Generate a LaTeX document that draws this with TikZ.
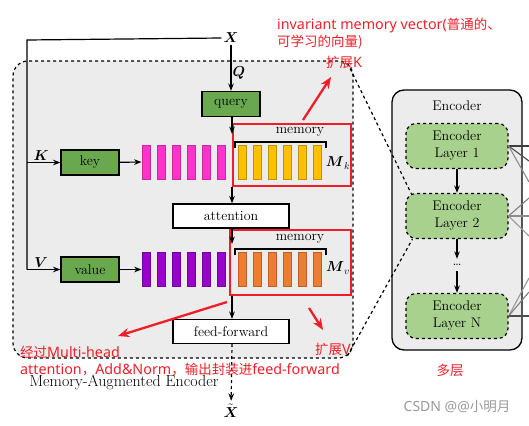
\documentclass[tikz,border=0pt]{standalone}
\usepackage{amsmath,amssymb}
\usepackage{fontspec}
\newfontfamily\cjk{Noto Sans CJK SC}
\newfontfamily\notelat{Noto Sans}
\newcommand{\zh}[1]{{\cjk\fontsize{13.5}{17}\selectfont #1}}
\usetikzlibrary{arrows.meta,positioning,calc}

\definecolor{boxgreen}{RGB}{106,168,79}
\definecolor{layergreen}{RGB}{169,209,142}
\definecolor{panelgray}{RGB}{236,236,236}
\definecolor{annored}{RGB}{240,30,40}
\definecolor{keypink}{RGB}{255,51,204}
\definecolor{keypinkd}{RGB}{200,40,160}
\definecolor{memyellow}{RGB}{255,192,0}
\definecolor{memyellowd}{RGB}{190,145,0}
\definecolor{valpurple}{RGB}{153,0,204}
\definecolor{valpurpled}{RGB}{115,0,155}
\definecolor{memorange}{RGB}{237,125,49}
\definecolor{memoranged}{RGB}{190,95,40}

\begin{document}
\begin{tikzpicture}[x=1pt, y=-1pt,
  fnt/.style={font=\fontsize{14}{17}\selectfont},
  gbox/.style={draw, line width=1.2pt, fill=boxgreen, minimum width=58pt, minimum height=25pt, inner sep=0pt, fnt},
  wbox/.style={draw, line width=1.2pt, fill=white, minimum width=116pt, minimum height=24pt, inner sep=0pt, fnt},
  bar/.style={draw, line width=0.9pt, minimum width=8pt, minimum height=34pt, inner sep=0pt},
  memframe/.style={draw=annored, line width=1.8pt, inner sep=0pt},
  layer/.style={draw, line width=1.2pt, dashed, fill=layergreen, rounded corners=10pt, minimum width=102pt, minimum height=45pt, inner sep=0pt, align=center, fnt},
  arr/.style={-{Stealth[length=2.6mm]}, line width=1.2pt},
  redarr/.style={-{Stealth[length=4mm, width=3.2mm]}, line width=2.3pt, annored},
  redtxt/.style={text=annored, font=\notelat\fontsize{14.3}{17}\selectfont, inner sep=0pt, align=left},
  fan/.style={line width=1.1pt},
  lbl/.style={fnt, inner sep=1pt}
]
\useasboundingbox (0,0) rectangle (529,425);

% memory-augmented encoder
\node[draw, dashed, line width=1.2pt, fill=panelgray, rounded corners=15pt, minimum width=340pt, minimum height=297pt, inner sep=0pt] (mae) at (183,209.5) {};
\node[font=\fontsize{16}{18}\selectfont] (maelbl) at (124,382) {Memory-Augmented Encoder};

\node[font=\fontsize{15}{17}\selectfont, inner sep=2pt] (X) at (231,38) {$\boldsymbol{X}$};
\node[gbox] (query) at (231,104) {query};
\node[gbox] (key) at (90,162.5) {key};
\node[gbox] (value) at (90,269.5) {value};
\node[wbox] (attention) at (231,216) {attention};
\node[wbox] (ff) at (231,331.5) {feed-forward};
\node[font=\fontsize{15}{17}\selectfont] (Xt) at (231,411) {$\tilde{\boldsymbol{X}}$};

\foreach \i in {1,...,6} {
  \node[bar, fill=keypink, draw=keypinkd] (k\i) at ({146+15*(\i-1)},162) {};
  \node[bar, fill=memyellow, draw=memyellowd] (mk\i) at ({242.5+15*(\i-1)},162) {};
  \node[bar, fill=valpurple, draw=valpurpled] (v\i) at ({146+15*(\i-1)},269.5) {};
  \node[bar, fill=memorange, draw=memoranged] (mv\i) at ({242.5+15*(\i-1)},269.5) {};
}

% memory slots
\draw[line width=1.1pt] (235,148) -- (235,142) -- (326,142) -- (326,148);
\node[lbl] (memktxt) at (300,132) {memory};
\node[lbl] (mklbl) at (338,163) {$\boldsymbol{M}_k$};
\draw[line width=1.1pt] (235,255) -- (235,249) -- (326,249) -- (326,255);
\node[lbl] (memvtxt) at (300,239) {memory};
\node[lbl] (mvlbl) at (338,268) {$\boldsymbol{M}_v$};

\node[memframe, minimum width=118pt, minimum height=62pt] (memk) at (292,155) {};
\node[memframe, minimum width=121pt, minimum height=65pt] (memv) at (290.5,262.5) {};

\coordinate (tl) at (27,40);
\coordinate (kl) at (27,162.5);
\coordinate (vl) at (27,269.5);
\coordinate (qin) at (232,134);
\coordinate (ain) at (232,244);

\draw[line width=1.2pt] (X.west) -- (tl) -- (vl);
\draw[arr] (X) -- node[lbl, right, pos=0.6] {$\boldsymbol{Q}$} (query);
\draw[arr] (query.south -| qin) -- (qin);
\draw[arr] (kl) -- node[lbl, above, pos=0.42] {$\boldsymbol{K}$} (key);
\draw[arr] (vl) -- node[lbl, above, pos=0.42] {$\boldsymbol{V}$} (value);
\draw[arr] (key) -- (k1);
\draw[arr] (value) -- (v1);
\draw[arr] (memk.south -| qin) -- (attention.north -| qin);
\draw[arr] (attention.south -| ain) -- (ain);
\draw[arr] (memv.south -| ain) -- (ff.north -| ain);
\draw[arr, dashed] (ff.south -| ain) -- (Xt);

% encoder stack
\node[draw, line width=1.3pt, fill=panelgray, rounded corners=12pt, minimum width=130pt, minimum height=260pt, inner sep=0pt] (enc) at (457,220) {};
\node[fnt] (enclbl) at (457,106) {Encoder};
\node[layer] (l1) at (457,146) {Encoder\\Layer 1};
\node[layer] (l2) at (457,216) {Encoder\\Layer 2};
\node[fnt, minimum height=12pt, inner sep=0pt] (dots) at (457,265) {\dots};
\node[layer] (ln) at (457,316) {Encoder\\Layer N};
\draw[arr] (l1) -- (l2);
\draw[arr] (l2) -- (dots);
\draw[arr] (dots) -- (ln);

\draw[dashed, line width=1.2pt] ($(mae.north east)+(-6,3)$) -- ($(l2.north west)+(6,1)$);
\draw[dashed, line width=1.2pt] ($(mae.south east)+(-6,-3)$) -- ($(l2.south west)+(7,0)$);

% links to the right
\coordinate (f1a) at (529,146);
\coordinate (f1b) at (529,161);
\coordinate (f1c) at (529,182);
\coordinate (f2a) at (529,198);
\coordinate (f2b) at (529,216);
\coordinate (f2c) at (529,236);
\coordinate (fna) at (529,278);
\coordinate (fnb) at (529,292);
\coordinate (fnc) at (529,316);
\draw[fan, black!75] (l1.east) -- (f1a);
\draw[fan, black!70] (l1.east) -- (f1b);
\draw[fan, black!45] (l1.east) -- (f1c);
\draw[fan, black!50] (l2.east) -- (f2a);
\draw[fan, black!45] (l2.east) -- (f2b);
\draw[fan, black!40] (l2.east) -- (f2c);
\draw[fan, black!40] (ln.east) -- (fna);
\draw[fan, black!50] (ln.east) -- (fnb);
\draw[fan, black!70] (ln.east) -- (fnc);

% notes
\node[redtxt, anchor=west] (note1) at (277,33.5) {invariant memory vector(\zh{普通的、}\\\zh{可学习的向量)}};
\node[redtxt, anchor=west] (extk) at (326,62) {\zh{扩展}K};
\node[redtxt, anchor=west] (extv) at (315,349) {\zh{扩展}V};
\node[redtxt, anchor=west] (note2) at (20,361) {\zh{经过}Multi-head\\attention\zh{，}Add\&Norm\zh{，输出封装进}feed-forward};
\node[redtxt, anchor=center] (multi) at (450,370) {\zh{多层}};
\node[text=black!40, font=\notelat\fontsize{14}{17}\selectfont, inner sep=0pt] (mark) at (457,407) {CSDN @@\zh{小明月}};

\coordinate (ra1) at (303,120);
\coordinate (rb1) at (331,77);
\coordinate (ra2) at (227,302);
\coordinate (rb2) at (118,336);
\coordinate (ra3) at (309,308);
\coordinate (rb3) at (323,330);
\draw[redarr] (ra1) -- (rb1);
\draw[redarr] (ra2) -- (rb2);
\draw[redarr] (ra3) -- (rb3);

\end{tikzpicture}
\end{document}
